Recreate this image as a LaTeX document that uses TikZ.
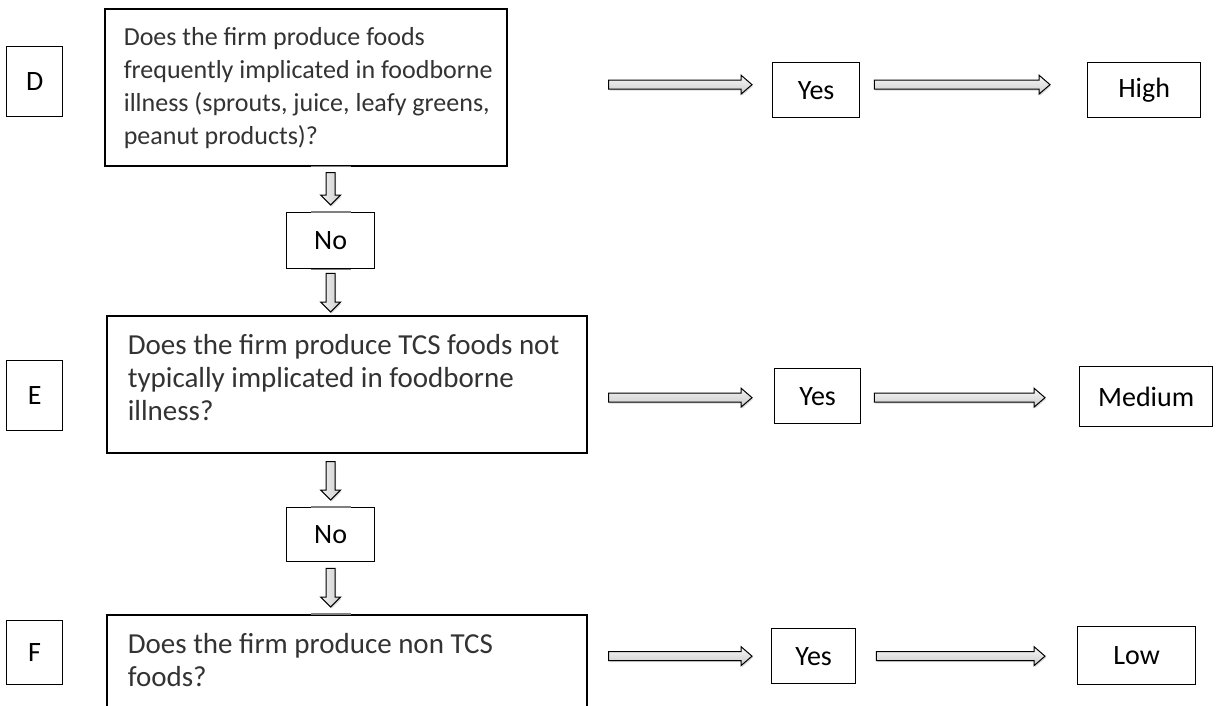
\documentclass[tikz,border=0pt]{standalone}
\usepackage{fontspec}
\setmainfont{Carlito}
\usetikzlibrary{calc,shadows}
\definecolor{qtext}{HTML}{333333}
\tikzset{
  txt/.style={font=\fontsize{28}{33}\selectfont},
  sbox/.style={draw=black, line width=1.3pt, inner sep=0pt, anchor=north west, txt},
  qbox/.style={draw=black, line width=1.6pt, inner sep=0pt, anchor=north west, text=qtext},
  blockarrow/.style={draw=black, line width=1pt, line join=miter, top color=gray!6, bottom color=gray!40,
     drop shadow={shadow xshift=1pt, shadow yshift=-1.5pt, opacity=0.3}},
  harrow/.style 2 args={blockarrow, to path={let \p1=(\tikztostart), \p2=(\tikztotarget) in
     (\x1+#1,\y2+4.5pt) -- (\x2-#2-11pt,\y2+4.5pt) -- (\x2-#2-11pt,\y2+9.5pt) -- (\x2-#2,\y2)
     -- (\x2-#2-11pt,\y2-9.5pt) -- (\x2-#2-11pt,\y2-4.5pt) -- (\x1+#1,\y2-4.5pt) -- cycle}},
  varrow/.style 2 args={blockarrow, left color=gray!10, right color=gray!40, to path={let \p1=(\tikztostart), \p2=(\tikztotarget) in
     (\x1+4.5pt,\y1-#1) -- (\x1+4.5pt,\y2+#2+10pt) -- (\x1+10pt,\y2+#2+10pt) -- (\x1,\y2+#2)
     -- (\x1-10pt,\y2+#2+10pt) -- (\x1-4.5pt,\y2+#2+10pt) -- (\x1-4.5pt,\y1-#1) -- cycle}},
  seg/.style={draw=gray, line width=1.6pt},
}
% #1 height, #2 width, #3 top gap, #4 left inset, #5 font size, #6 text
\newcommand{\qpar}[6]{\parbox[t][#1][t]{#2}{\fontsize{#5}{33}\selectfont\vspace*{#3}\raggedright\leftskip=#4\relax #6}}
\begin{document}
\begin{tikzpicture}[x=1pt,y=-1pt]
\clip (0,0) rectangle (1223,706);
\fill[white] (0,0) rectangle (1223,706);
% row D
\node[sbox, minimum width=56, minimum height=70] (d) at (6,46) {D};
\node[qbox] (q1) at (104,8) {\qpar{157pt}{402pt}{19pt}{19pt}{26}{Does the firm produce foods\\
frequently implicated in foodborne\\
illness (sprouts, juice, leafy greens,\\
peanut products)?}};
\node[sbox, minimum width=87, minimum height=55] (yes1) at (772,62) {Yes};
\node[sbox, minimum width=113, minimum height=55] (high) at (1087,62) {High};
\draw[harrow={101pt}{20pt}] (q1.east) to ([yshift=5.5pt]yes1.west);
\draw[harrow={14pt}{37pt}] (yes1.east) to ([yshift=5.5pt]high.west);
% No 1
\node[sbox, minimum width=88, minimum height=56] (no1) at (286,212) {No};
% row E
\node[sbox, minimum width=56, minimum height=70] (e) at (6,360) {E};
\node[qbox] (q2) at (106,315) {\qpar{137pt}{480pt}{19pt}{21pt}{29}{Does the firm produce TCS foods not\\
typically implicated in foodborne\\
illness?}};
\node[sbox, minimum width=86, minimum height=55] (yes2) at (774,368) {Yes};
\node[sbox, minimum width=133, minimum height=60] (medium) at (1079,366) {Medium};
\draw[harrow={21pt}{22pt}] (q2.east) to ([yshift=-1.5pt]yes2.west);
\draw[harrow={13pt}{34pt}] (yes2.east) to ([yshift=-1.5pt]yes2.west -| medium.west);
% No 2
\node[sbox, minimum width=88, minimum height=54] (no2) at (286,507) {No};
% row F
\node[sbox, minimum width=56, minimum height=64] (f) at (6,620) {F};
\node[qbox] (q3) at (106,614) {\qpar{120pt}{480pt}{19pt}{21pt}{29}{Does the firm produce non TCS\\
foods?}};
\node[sbox, minimum width=84, minimum height=55] (yes3) at (771,628) {Yes};
\node[sbox, minimum width=118, minimum height=58] (low) at (1077,626) {Low};
\draw[harrow={21pt}{19pt}] (q3.east |- yes3.west) to (yes3.west);
\draw[harrow={20pt}{32pt}] (yes3.east) to (yes3.east -| low.west);
% vertical connectors
\draw[varrow={6pt}{7pt}] (q1.south -| no1.north) to (no1.north);
\draw[varrow={4pt}{3pt}] (no1.south) to (no1.south |- q2.north);
\draw[varrow={8pt}{7pt}] (q2.south -| no2.north) to (no2.north);
\draw[varrow={6pt}{7pt}] (no2.south) to (no2.south |- q3.north);
% grey edge marks where the connectors meet the boxes
\draw[seg] ([xshift=-20pt]q1.south -| no1.north) -- ([xshift=20pt]q1.south -| no1.north);
\draw[seg] ([xshift=-20pt]no1.north) -- ([xshift=20pt]no1.north);
\draw[seg] ([xshift=-20pt]no1.south) -- ([xshift=20pt]no1.south);
\draw[seg] ([xshift=-20pt]no2.north) -- ([xshift=20pt]no2.north);
\draw[seg] ([xshift=-20pt]no2.south |- q3.north) -- ([xshift=20pt]no2.south |- q3.north);
\end{tikzpicture}
\end{document}
